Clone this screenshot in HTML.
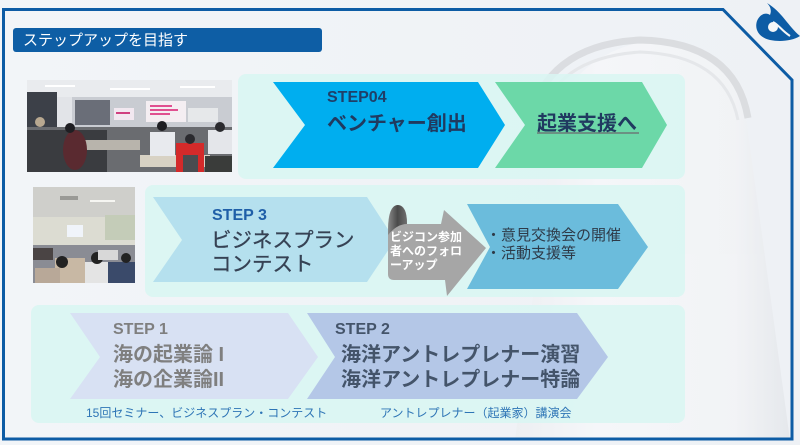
<!DOCTYPE html>
<html><head><meta charset="utf-8">
<style>
html,body{margin:0;padding:0;}
body{width:800px;height:445px;overflow:hidden;background:#f1f4f7;}
svg{display:block;}
text{font-family:"Liberation Sans","Noto Sans CJK JP",sans-serif;}
</style></head>
<body>
<svg width="800" height="445" viewBox="0 0 800 445" xmlns="http://www.w3.org/2000/svg">
<defs>
<linearGradient id="bg" x1="0" y1="0" x2="1" y2="0">
<stop offset="0" stop-color="#f2f5f8"/><stop offset="1" stop-color="#eef1f5"/>
</linearGradient>
<linearGradient id="tower" x1="0" y1="0" x2="1" y2="0">
<stop offset="0" stop-color="#eceef1"/><stop offset="0.3" stop-color="#f7f8fa"/><stop offset="0.8" stop-color="#f3f4f6"/><stop offset="1" stop-color="#e2e5e9"/>
</linearGradient>
<linearGradient id="curl" x1="0" y1="0" x2="1" y2="0">
<stop offset="0" stop-color="#8a8a8a"/><stop offset="0.5" stop-color="#4a4a4a"/><stop offset="1" stop-color="#707070"/>
</linearGradient>
<clipPath id="p1"><rect x="27" y="80" width="205" height="92"/></clipPath>
<clipPath id="p2"><rect x="33" y="187" width="102" height="96"/></clipPath>
</defs>

<rect width="800" height="445" fill="url(#bg)"/>

<!-- faint tower -->
<g opacity="0.75">
<path d="M555,120 Q570,60 640,42 Q720,40 745,110 L790,440 L515,440 Z" fill="url(#tower)"/>
<path d="M528,125 Q545,45 640,40 Q735,42 748,118" fill="none" stroke="#d5d7da" stroke-width="7"/>
<path d="M540,120 Q555,58 640,52 Q725,55 738,120" fill="none" stroke="#e2e4e7" stroke-width="3"/>
</g>

<!-- frame -->
<path d="M3.5,9.5 L723,9.5 L792,80 L792,439 L3.5,439 Z" fill="none" stroke="#0d5ca5" stroke-width="3"/>

<!-- logo -->
<path d="M767,3 C782,12 788,26 800,36 C792,41 780,42 770,40 C760,38 754,30 757,21 C760,14 766,12 770,15 C772,10 770,6 767,3 Z" fill="#0d5ca5"/>
<circle cx="773" cy="27" r="5" fill="#f4f6f8"/>
<path d="M773,22 C778,24 781,30 790,36" fill="none" stroke="#f4f6f8" stroke-width="2"/>

<!-- title bar -->
<rect x="13" y="28" width="309" height="24" rx="3" fill="#0e5ea5"/>
<text x="23" y="45" font-size="15" fill="#ffffff">ステップアップを目指す</text>

<!-- panels -->
<rect x="238" y="74" width="447" height="105" rx="8" fill="#d8f6f2" opacity="0.85"/>
<rect x="145" y="185" width="540" height="112" rx="8" fill="#d8f6f2" opacity="0.85"/>
<rect x="31" y="305" width="654" height="118" rx="8" fill="#d8f6f2" opacity="0.85"/>

<!-- photo 1 -->
<g clip-path="url(#p1)">
<rect x="27" y="80" width="205" height="92" fill="#8a8c90"/>
<rect x="27" y="80" width="205" height="17" fill="#e9ebee"/>
<rect x="45" y="85" width="30" height="2" fill="#ffffff"/>
<rect x="110" y="88" width="40" height="2" fill="#ffffff"/>
<rect x="180" y="86" width="35" height="2" fill="#ffffff"/>
<rect x="27" y="97" width="205" height="30" fill="#c9ccd2"/>
<rect x="27" y="92" width="30" height="40" fill="#3c4048"/>
<rect x="57" y="97" width="15" height="35" fill="#e2e4e8"/>
<rect x="75" y="100" width="35" height="25" fill="#6a6e78"/>
<rect x="146" y="101" width="40" height="21" fill="#f4eef2"/>
<rect x="150" y="105" width="22" height="2" fill="#e05090"/>
<rect x="150" y="109" width="28" height="2" fill="#e05090"/>
<rect x="150" y="113" width="20" height="2" fill="#e05090"/>
<rect x="114" y="108" width="20" height="12" fill="#f2e8f0"/>
<rect x="116" y="112" width="14" height="2" fill="#d04080"/>
<rect x="188" y="108" width="30" height="14" fill="#e6e8ea"/>
<rect x="27" y="127" width="205" height="45" fill="#6a6c70"/>
<rect x="27" y="130" width="80" height="42" fill="#3a3c40"/>
<rect x="80" y="140" width="60" height="10" fill="#b8b4ac"/>
<rect x="140" y="155" width="70" height="12" fill="#d8d2c4"/>
<ellipse cx="75" cy="150" rx="12" ry="20" fill="#5a2a30"/>
<circle cx="70" cy="128" r="5" fill="#1e1e22"/>
<rect x="150" y="132" width="25" height="24" fill="#e8eaee"/>
<circle cx="162" cy="126" r="5" fill="#1e1e22"/>
<rect x="176" y="143" width="28" height="29" fill="#d42a2a"/>
<rect x="183" y="155" width="15" height="17" fill="#4a4c50"/>
<circle cx="190" cy="139" r="5" fill="#2a2a2e"/>
<rect x="208" y="130" width="24" height="24" fill="#e4e6ea"/>
<circle cx="220" cy="127" r="5" fill="#2a2a2e"/>
<rect x="205" y="156" width="27" height="16" fill="#3a3c3a"/>
<circle cx="40" cy="122" r="5" fill="#b8a890"/>
</g>

<!-- photo 2 -->
<g clip-path="url(#p2)">
<rect x="33" y="187" width="102" height="96" fill="#b0b0ac"/>
<rect x="33" y="187" width="102" height="30" fill="#cfcfcb"/>
<rect x="90" y="200" width="25" height="2" fill="#f6f6f2"/>
<rect x="60" y="196" width="18" height="4" fill="#9a9a96"/>
<rect x="33" y="217" width="102" height="28" fill="#dcdcd2"/>
<rect x="105" y="215" width="30" height="25" fill="#c4ccb8"/>
<rect x="67" y="225" width="16" height="12" fill="#f0f4fa"/>
<rect x="33" y="245" width="102" height="38" fill="#8a8c94"/>
<rect x="33" y="248" width="20" height="12" fill="#4a4444"/>
<rect x="55" y="258" width="30" height="25" fill="#c8b8a4"/>
<circle cx="62" cy="262" r="6" fill="#222"/>
<rect x="35" y="268" width="25" height="15" fill="#b8a898"/>
<rect x="85" y="262" width="25" height="21" fill="#e4e4e4"/>
<circle cx="97" cy="258" r="6" fill="#222"/>
<rect x="108" y="262" width="27" height="21" fill="#3a4a6a"/>
<circle cx="126" cy="258" r="5" fill="#222"/>
<rect x="98" y="250" width="20" height="10" fill="#d8d8d8"/>
</g>

<!-- STEP04 row -->
<polygon points="273,82 478,82 505,125 478,168 273,168 305,125" fill="#00aeef"/>
<polygon points="495,82 642,82 667,125 642,168 495,168 525,125" fill="#6cd8a8"/>
<text x="327" y="102" font-size="16" font-weight="bold" fill="#1f3f68">STEP04</text>
<text x="327" y="130" font-size="20" font-weight="bold" fill="#203a60">ベンチャー創出</text>
<text x="537" y="130" font-size="20" font-weight="bold" fill="#203a60">起業支援へ</text>
<line x1="537" y1="133" x2="639" y2="133" stroke="#6a4a5e" stroke-width="1"/>

<!-- STEP3 row -->
<polygon points="153,197 367,197 395,240 367,282 153,282 182,240" fill="#b5e0ee"/>
<polygon points="467,204 618,204 648,247 618,289 467,289 490,247" fill="#6bbcdc"/>
<text x="212" y="220" font-size="16" font-weight="bold" fill="#1f5fa8">STEP 3</text>
<text x="211" y="247" font-size="20.5" fill="#364254" stroke="#364254" stroke-width="0.3">ビジネスプラン</text>
<text x="211" y="271" font-size="20.5" fill="#364254" stroke="#364254" stroke-width="0.3">コンテスト</text>
<!-- grey arrow -->
<path d="M388,230 Q388,205 398,205 Q407,205 407,224 L441,224 L444,210 L486,248 L447,296 L445,280 L394,280 Q388,280 388,274 Z" fill="#a6a6a6"/>
<path d="M388,233 Q388,205 398,205 Q407,206 407,224 Q397,224 388,235 Z" fill="url(#curl)"/>
<text x="390" y="241" font-size="12" font-weight="bold" fill="#ffffff">ビジコン参加</text>
<text x="390" y="255" font-size="12" font-weight="bold" fill="#ffffff">者へのフォロ</text>
<text x="390" y="269" font-size="12" font-weight="bold" fill="#ffffff">ーアップ</text>
<text x="486" y="240" font-size="15" fill="#2e3a48">・意見交換会の開催</text>
<text x="486" y="258" font-size="15" fill="#2e3a48">・活動支援等</text>

<!-- STEP1/2 row -->
<polygon points="70,313 288,313 318,357 288,399 70,399 100,357" fill="#d8e1f3"/>
<polygon points="307,313 577,313 608,357 577,399 307,399 335,357" fill="#b4c7e7"/>
<text x="113" y="334" font-size="16" font-weight="bold" fill="#7f7f7f">STEP  1</text>
<text x="113" y="361" font-size="20" font-weight="bold" fill="#7f7f7f">海の起業論 I</text>
<text x="113" y="386" font-size="20" font-weight="bold" fill="#7f7f7f">海の企業論II</text>
<text x="335" y="334" font-size="16" font-weight="bold" fill="#44546a">STEP 2</text>
<text x="341" y="361" font-size="20" font-weight="bold" fill="#44546a">海洋アントレプレナー演習</text>
<text x="341" y="386" font-size="20" font-weight="bold" fill="#44546a">海洋アントレプレナー特論</text>
<text x="86" y="417" font-size="12" fill="#2e75b6">15回セミナー、ビジネスプラン・コンテスト</text>
<text x="380" y="417" font-size="12" fill="#2e75b6">アントレプレナー（起業家）講演会</text>
</svg>
</body></html>
